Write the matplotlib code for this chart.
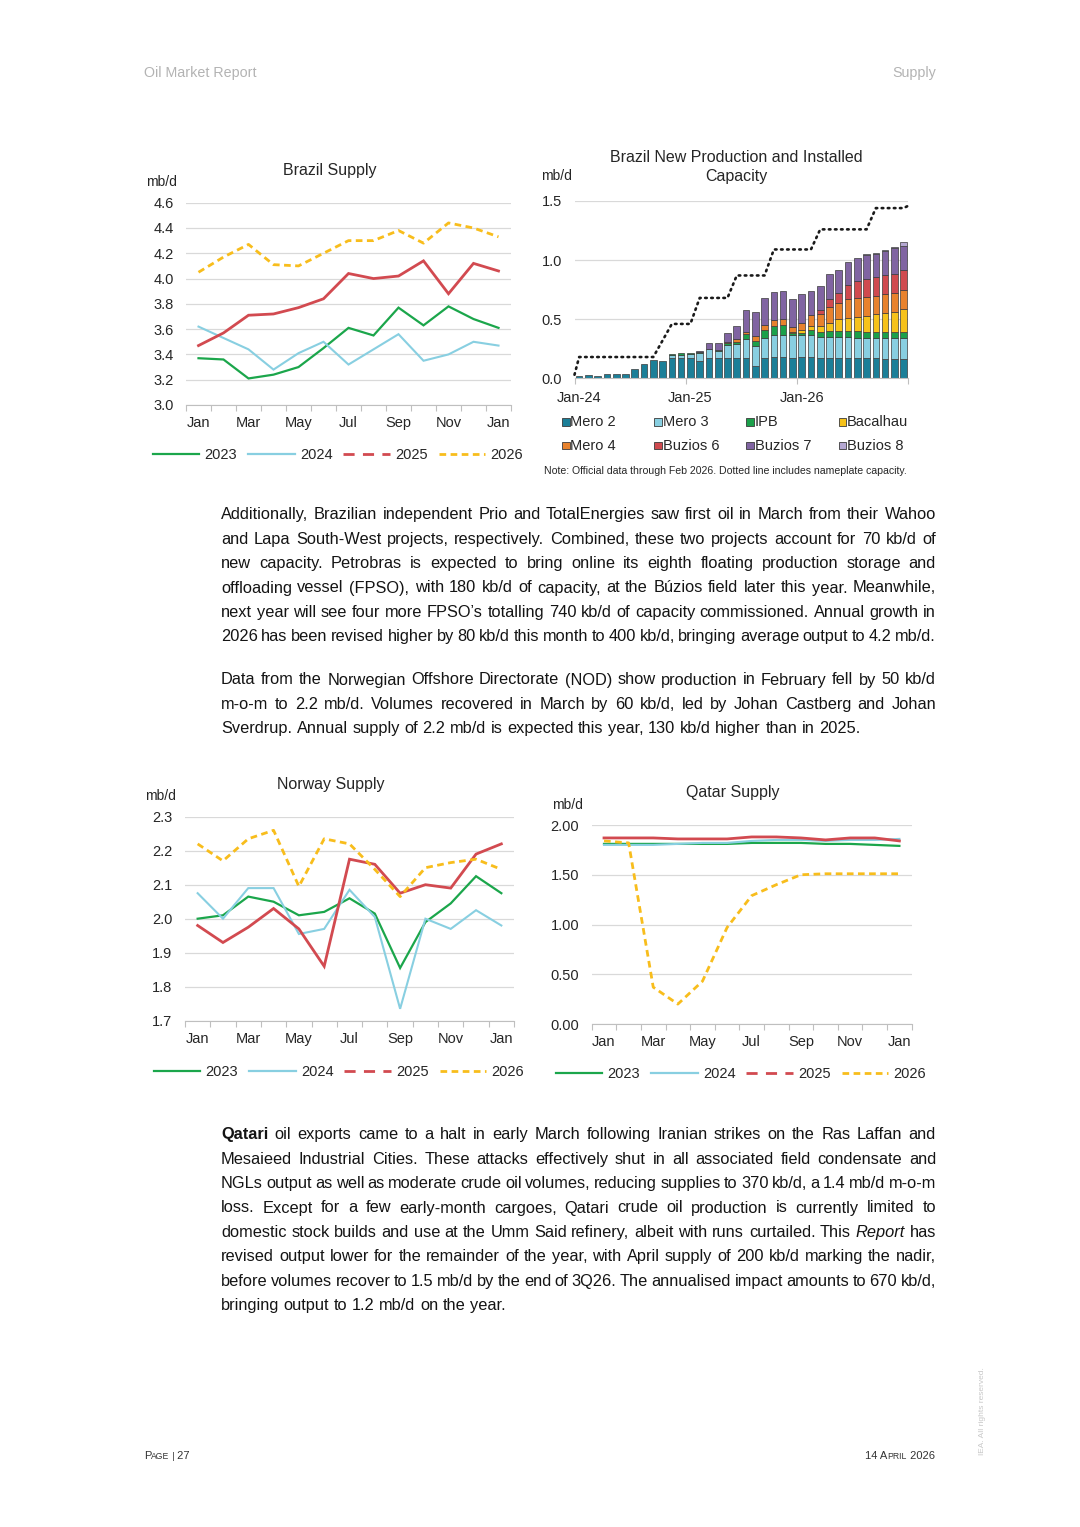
import numpy as np
import matplotlib.pyplot as plt
from matplotlib.lines import Line2D
from matplotlib.patches import Rectangle
from matplotlib.transforms import IdentityTransform

# page size in pixels
W, H = 1080, 1527

plt.rcParams['font.family'] = ['Liberation Sans', 'DejaVu Sans']

# ---------------- data ----------------
months = ['Jan', 'Feb', 'Mar', 'Apr', 'May', 'Jun', 'Jul', 'Aug', 'Sep', 'Oct', 'Nov', 'Dec', 'Jan']
years = ['2023', '2024', '2025', '2026']

brazil_2023 = [3.37, 3.36, 3.21, 3.24, 3.30, 3.45, 3.61, 3.55, 3.77, 3.63, 3.78, 3.68, 3.61]
brazil_2024 = [3.62, 3.53, 3.44, 3.28, 3.41, 3.50, 3.32, 3.44, 3.56, 3.35, 3.40, 3.50, 3.47]
brazil_2025 = [3.47, 3.57, 3.71, 3.72, 3.77, 3.84, 4.04, 4.00, 4.02, 4.14, 3.88, 4.12, 4.06]
brazil_2026 = [4.05, 4.17, 4.27, 4.11, 4.10, 4.20, 4.30, 4.30, 4.38, 4.28, 4.44, 4.40, 4.33]

norway_2023 = [2.00, 2.01, 2.065, 2.05, 2.01, 2.02, 2.06, 2.015, 1.855, 1.99, 2.045, 2.125, 2.075]
norway_2024 = [2.075, 2.00, 2.09, 2.09, 1.955, 1.97, 2.085, 2.005, 1.735, 2.00, 1.97, 2.025, 1.98]
norway_2025 = [1.98, 1.93, 1.975, 2.03, 1.97, 1.86, 2.175, 2.16, 2.075, 2.10, 2.09, 2.19, 2.22]
norway_2026 = [2.22, 2.17, 2.235, 2.26, 2.095, 2.235, 2.22, 2.145, 2.065, 2.15, 2.165, 2.175, 2.145]

qatar_2023 = [1.81, 1.81, 1.81, 1.81, 1.81, 1.81, 1.82, 1.82, 1.82, 1.81, 1.81, 1.80, 1.79]
qatar_2024 = [1.80, 1.80, 1.80, 1.81, 1.82, 1.82, 1.84, 1.85, 1.85, 1.84, 1.85, 1.85, 1.86]
qatar_2025 = [1.87, 1.87, 1.87, 1.86, 1.86, 1.86, 1.88, 1.88, 1.87, 1.85, 1.87, 1.87, 1.84]
qatar_2026 = [1.84, 1.82, 0.37, 0.20, 0.43, 0.97, 1.29, 1.40, 1.50, 1.51, 1.51, 1.51, 1.51]

# Brazil new projects, Jan-24 .. Dec-26 (mb/d, stacked)
bar_months = 36
bar_labels = ['Jan-24', 'Jan-25', 'Jan-26']
projects = ['Mero 2', 'Mero 3', 'IPB', 'Bacalhau', 'Mero 4', 'Buzios 6', 'Buzios 7', 'Buzios 8']
mero2 = [0.02, 0.03, 0.02, 0.04, 0.04, 0.04, 0.08, 0.12, 0.155, 0.15, 0.17, 0.17,
         0.17, 0.15, 0.17, 0.17, 0.17, 0.17, 0.175, 0.10, 0.17, 0.18, 0.18, 0.17,
         0.18, 0.18, 0.17, 0.17, 0.17, 0.17, 0.17, 0.17, 0.17, 0.165, 0.165, 0.16]
mero3 = [0, 0, 0, 0, 0, 0, 0, 0, 0, 0, 0.03, 0.03,
         0.035, 0.065, 0.08, 0.06, 0.11, 0.12, 0.155, 0.17, 0.17, 0.185, 0.19, 0.195,
         0.185, 0.185, 0.18, 0.18, 0.18, 0.18, 0.175, 0.175, 0.175, 0.175, 0.175, 0.18]
ipb = [0, 0, 0, 0, 0, 0, 0, 0, 0, 0, 0.005, 0.01,
       0.01, 0.005, 0, 0.01, 0.02, 0.02, 0.045, 0.045, 0.07, 0.075, 0.08, 0.015,
       0.015, 0.045, 0.04, 0.05, 0.05, 0.05, 0.055, 0.05, 0.05, 0.05, 0.05, 0.05]
bacalhau = [0] * 23 + [0.015, 0.03, 0.03, 0.05, 0.07, 0.10, 0.11, 0.12, 0.135, 0.145, 0.16, 0.17, 0.20]
mero4 = [0] * 16 + [0.01, 0.02, 0.02, 0.045, 0.045, 0.05, 0.05, 0.04,
                    0.06, 0.095, 0.10, 0.13, 0.14, 0.16, 0.16, 0.16, 0.16, 0.16, 0.16, 0.16]
buzios6 = [0] * 26 + [0.04, 0.07, 0.08, 0.12, 0.14, 0.15, 0.16, 0.16, 0.16, 0.17]
buzios7 = [0] * 13 + [0.01, 0.05, 0.06, 0.07, 0.11, 0.185, 0.205, 0.225, 0.24, 0.24, 0.24,
                      0.245, 0.205, 0.20, 0.21, 0.20, 0.19, 0.20, 0.205, 0.195, 0.205, 0.22, 0.20]
buzios8 = [0] * 31 + [0.005, 0.005, 0.01, 0.01, 0.035]
# installed capacity (dotted line), plus the values at the left/right plot edges
capacity = [0.18] * 9 + [0.32] + [0.46] * 3 + [0.68] * 4 + [0.87] * 4 + [1.09] * 5 + [1.26] * 6 + [1.44] * 4
capacity_edges = [0.03, 1.46]

# ---------------- colours / styles ----------------
GREEN, LBLUE, RED, YELLOW = '#1ba64b', '#88cfe1', '#d24a50', '#f8bd1c'
proj_colors = ['#1b7f98', '#88cfe1', '#1ba04a', '#f6c21a', '#e8822d', '#d04a4f', '#8064a2', '#b5a8d2']
TXT = '#141414'
AX_TXT = '#262626'
GRID = '#d9d9d9'

fig = plt.figure(figsize=(W / 100, H / 100), dpi=100)
renderer = fig.canvas.get_renderer()
PIX = IdentityTransform()


def rect(l, t, r, b):
    return [l / W, 1 - b / H, (r - l) / W, (b - t) / H]


def ptext(x, y, s, **kw):
    return fig.text(x, H - y, s, transform=PIX, **kw)


def style_axes(ax):
    for s in ['left', 'right', 'top']:
        ax.spines[s].set_visible(False)
    ax.spines['bottom'].set_color('#bfbfbf')
    ax.yaxis.grid(True, color=GRID, lw=0.9)
    ax.set_axisbelow(True)
    ax.tick_params(axis='y', length=0, pad=9, labelsize=10.5, colors=AX_TXT)
    ax.tick_params(axis='x', which='major', length=0, pad=8, labelsize=10.5, colors=AX_TXT)
    ax.tick_params(axis='x', which='minor', length=4, color='#bfbfbf', width=0.8)


def line_chart(box, series, ylo, yhi, step, fmt, title, title_xy, unit_xy, legend_xy):
    ax = fig.add_axes(rect(*box))
    x = np.arange(len(months))
    styles = [dict(color=GREEN, lw=1.6), dict(color=LBLUE, lw=1.5),
              dict(color=RED, lw=2.0), dict(color=YELLOW, lw=2.0, dashes=(2.4, 1.6))]
    for vals, st in zip(series, styles):
        ax.plot(x, vals, solid_joinstyle='miter', **st)
    ax.set_xlim(-0.5, len(months) - 0.5)
    ax.set_ylim(ylo, yhi)
    ax.set_yticks(np.arange(ylo, yhi + step / 2, step))
    ax.yaxis.set_major_formatter(plt.FormatStrFormatter(fmt))
    ax.set_xticks(x[::2])
    ax.set_xticklabels(months[::2])
    ax.set_xticks(np.arange(-0.5, len(months), 1), minor=True)
    style_axes(ax)
    ax.spines['bottom'].set_zorder(3)
    ptext(*title_xy, title, ha='center', va='center', fontsize=11.5, color=AX_TXT)
    ptext(*unit_xy, 'mb/d', ha='left', va='center', fontsize=10, color=AX_TXT)
    handles = [Line2D([], [], color=GREEN, lw=1.6), Line2D([], [], color=LBLUE, lw=1.6),
               Line2D([], [], color=RED, lw=2.0, dashes=(4, 3)),
               Line2D([], [], color=YELLOW, lw=2.0, dashes=(2.4, 1.6))]
    ax.legend(handles, years, loc='center', ncol=4, frameon=False, fontsize=10.5,
              bbox_to_anchor=(legend_xy[0] / W, 1 - legend_xy[1] / H), bbox_transform=fig.transFigure,
              handlelength=3.2, handletextpad=0.35, columnspacing=0.75, borderpad=0, borderaxespad=0,
              labelcolor=AX_TXT)
    return ax


# ---------------- Brazil supply ----------------
line_chart((186, 202.7, 511, 405), [brazil_2023, brazil_2024, brazil_2025, brazil_2026],
           3.0, 4.6, 0.2, '%.1f', 'Brazil Supply', (330, 171), (146, 182), (338, 455))

# ---------------- Brazil new production ----------------
axb = fig.add_axes(rect(574.5, 201, 908.3, 378.3))
xb = np.arange(bar_months)
bottom = np.zeros(bar_months)
for name, vals, col in zip(projects, [mero2, mero3, ipb, bacalhau, mero4, buzios6, buzios7, buzios8], proj_colors):
    vals = np.array(vals, dtype=float)
    m = vals > 0
    axb.bar(xb[m], vals[m], bottom=bottom[m], width=0.72, color=col, edgecolor='#3a3a3a', linewidth=0.5, zorder=2)
    bottom += vals
cap_x = np.r_[xb[0] - 0.5, xb, xb[-1] + 0.5]
cap_y = np.r_[capacity_edges[0], capacity, capacity_edges[1]]
axb.plot(cap_x, cap_y, color='#1a1a1a', lw=1.9, ls=(0, (0.6, 1.7)), dash_capstyle='round', zorder=3, clip_on=False)
axb.set_xlim(-0.5, bar_months - 0.5)
axb.set_ylim(0, 1.5)
axb.set_yticks([0, 0.5, 1.0, 1.5])
axb.yaxis.set_major_formatter(plt.FormatStrFormatter('%.1f'))
axb.set_xticks(xb[::12])
axb.set_xticklabels(bar_labels)
axb.set_xticks(np.arange(-0.5, bar_months, 12), minor=True)
style_axes(axb)
axb.tick_params(axis='x', which='major', pad=9)
ptext(736, 167, 'Brazil New Production and Installed\nCapacity', ha='center', va='center',
      fontsize=11.5, color=AX_TXT, linespacing=1.25)
ptext(541, 176, 'mb/d', ha='left', va='center', fontsize=10, color=AX_TXT)

# legend for the projects, 2 rows x 4 columns
for i, (name, col) in enumerate(zip(projects, proj_colors)):
    lx = 562 + (i % 4) * 92.2
    ly = 422 + (i // 4) * 23.5
    fig.add_artist(Rectangle((lx, H - ly - 3.8), 7.5, 7.5, transform=PIX, facecolor=col,
                             edgecolor='#3a3a3a', linewidth=0.6))
    ptext(lx + 8.5, ly, name, ha='left', va='center', fontsize=10.5, color=AX_TXT)
ptext(544, 471, 'Note: Official data through Feb 2026. Dotted line includes nameplate capacity.',
      ha='left', va='center', fontsize=7.6, color=AX_TXT)

# ---------------- Norway / Qatar ----------------
line_chart((185, 816.7, 514, 1020.7), [norway_2023, norway_2024, norway_2025, norway_2026],
           1.7, 2.3, 0.1, '%.1f', 'Norway Supply', (331, 785), (145, 796), (339, 1072))
line_chart((591.7, 825, 911.7, 1024), [qatar_2023, qatar_2024, qatar_2025, qatar_2026],
           0.0, 2.0, 0.5, '%.2f', 'Qatar Supply', (733, 793), (552, 805), (741, 1074))

# ---------------- body text ----------------
BODY = 11.8
X0, X1 = 221, 936


def word_art(tok, size):
    wt, st, s = 'normal', 'normal', tok
    if s.startswith('**'):
        wt, s = 'bold', s.replace('**', '')
    elif s.startswith('*'):
        st, s = 'italic', s.replace('*', '')
    t = fig.text(0, 0, s, transform=PIX, fontsize=size, weight=wt, style=st,
                 ha='left', va='baseline', color=TXT)
    return t


sp1 = fig.text(0, 0, 'a a', fontsize=BODY)
sp2 = fig.text(0, 0, 'aa', fontsize=BODY)
SPACE = sp1.get_window_extent(renderer).width - sp2.get_window_extent(renderer).width
sp1.remove()
sp2.remove()


def paragraph(lines, y0, lead=24.4):
    for k, line in enumerate(lines):
        arts = [word_art(tok, BODY) for tok in line.split(' ')]
        widths = [a.get_window_extent(renderer).width for a in arts]
        fill = (X1 - X0 - sum(widths)) / (len(arts) - 1)
        last = k == len(lines) - 1
        # last line keeps normal spacing unless it would run past the margin
        gap = min(SPACE, fill) if last else fill
        x = X0
        for a, w in zip(arts, widths):
            a.set_position((x, H - (y0 + k * lead)))
            x += w + gap


paragraph([
    'Additionally, Brazilian independent Prio and TotalEnergies saw first oil in March from their Wahoo',
    'and Lapa South-West projects, respectively. Combined, these two projects account for 70 kb/d of',
    'new capacity. Petrobras is expected to bring online its eighth floating production storage and',
    'offloading vessel (FPSO), with 180 kb/d of capacity, at the Búzios field later this year. Meanwhile,',
    'next year will see four more FPSO\u2019s totalling 740 kb/d of capacity commissioned. Annual growth in',
    '2026 has been revised higher by 80 kb/d this month to 400 kb/d, bringing average output to 4.2 mb/d.',
], 519.3)

paragraph([
    'Data from the Norwegian Offshore Directorate (NOD) show production in February fell by 50 kb/d',
    'm-o-m to 2.2 mb/d. Volumes recovered in March by 60 kb/d, led by Johan Castberg and Johan',
    'Sverdrup. Annual supply of 2.2 mb/d is expected this year, 130 kb/d higher than in 2025.',
], 684.5)

paragraph([
    '**Qatari** oil exports came to a halt in early March following Iranian strikes on the Ras Laffan and',
    'Mesaieed Industrial Cities. These attacks effectively shut in all associated field condensate and',
    'NGLs output as well as moderate crude oil volumes, reducing supplies to 370 kb/d, a 1.4 mb/d m-o-m',
    'loss. Except for a few early-month cargoes, Qatari crude oil production is currently limited to',
    'domestic stock builds and use at the Umm Said refinery, albeit with runs curtailed. This *Report* has',
    'revised output lower for the remainder of the year, with April supply of 200 kb/d marking the nadir,',
    'before volumes recover to 1.5 mb/d by the end of 3Q26. The annualised impact amounts to 670 kb/d,',
    'bringing output to 1.2 mb/d on the year.',
], 1139.3)

# ---------------- header / footer ----------------
GREY = '#b3b3b3'
ptext(144, 73, 'Oil Market Report', ha='left', va='center', fontsize=10.3, color=GREY)
ptext(936, 73, 'Supply', ha='right', va='center', fontsize=10.3, color=GREY)


def small_caps(pieces, x, y, align='left'):
    arts = [fig.text(0, 0, s, transform=PIX, fontsize=sz, ha='left', va='baseline', color='#333333')
            for s, sz in pieces]
    widths = [a.get_window_extent(renderer).width for a in arts]
    if align == 'right':
        x = x - sum(widths)
    for a, w in zip(arts, widths):
        a.set_position((x, H - y))
        x += w


small_caps([('P', 8), ('AGE', 6.2), (' |', 6.2), (' 27', 8)], 144, 1459)
small_caps([('14 A', 8), ('PRIL', 6.2), (' 2026', 8)], 935, 1459, align='right')
ptext(982, 1411, 'IEA. All rights reserved.', ha='center', va='center', rotation=90,
      fontsize=6, color='#c8c8c8')

fig.savefig('out.png', dpi=100, facecolor='white')
